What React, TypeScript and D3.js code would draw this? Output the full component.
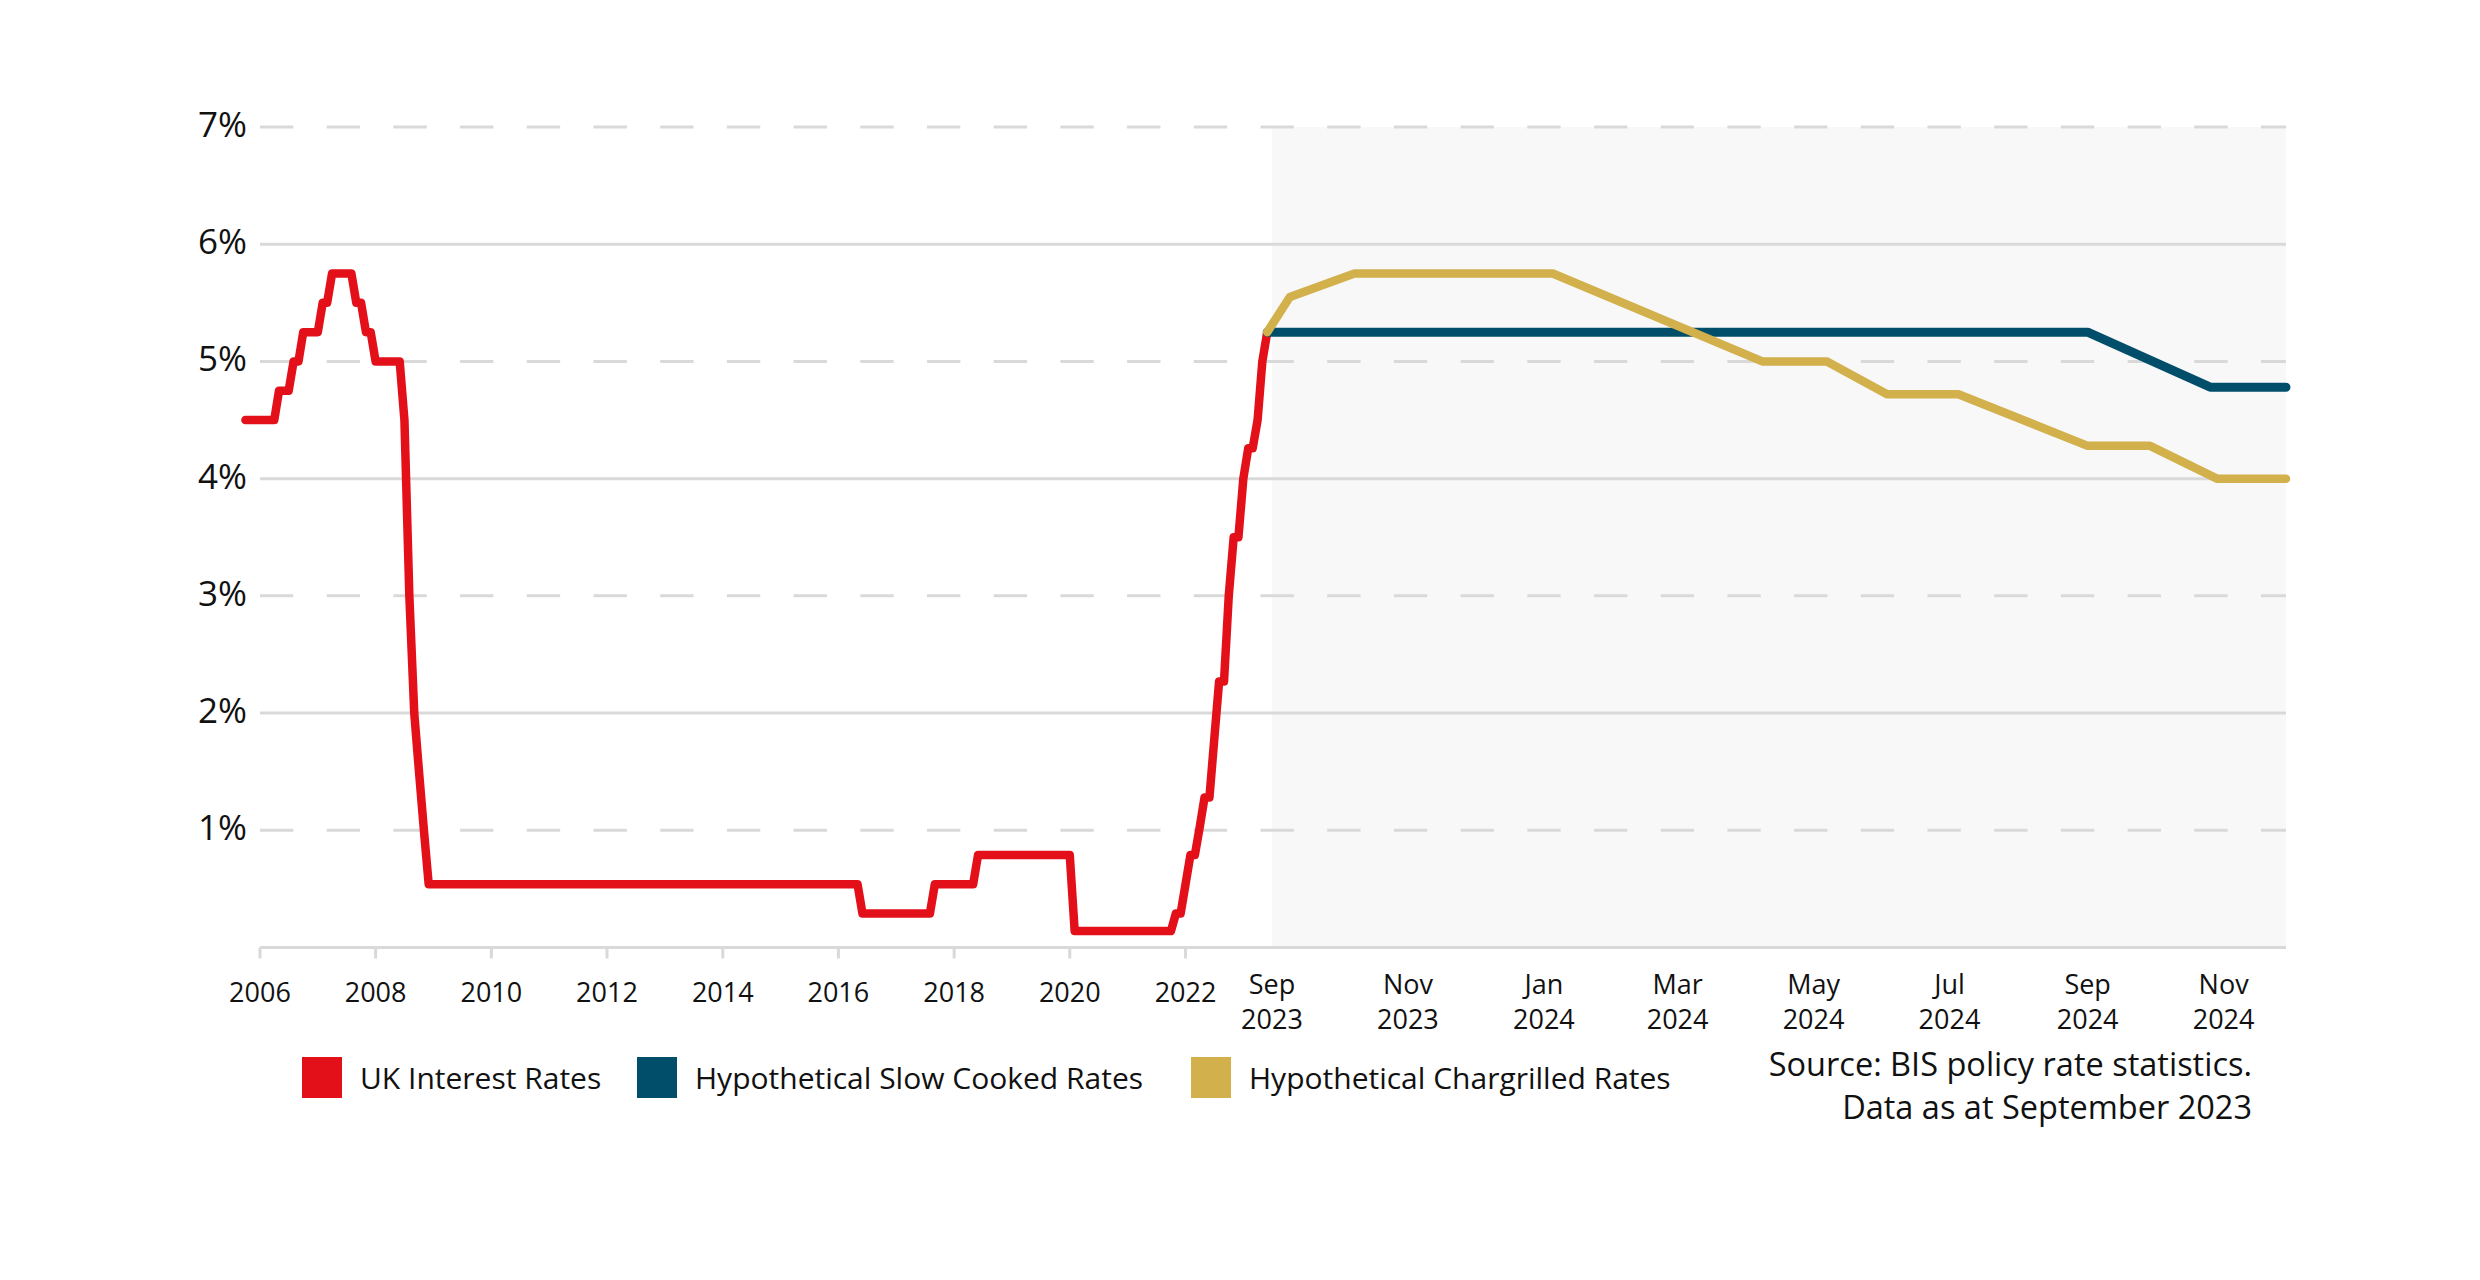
import * as d3 from "d3";
import * as React from "react";

// monthly policy rate, as plotted (change points only)
const ukRates: [string, number][] = [
  ["2005-10", 4.5], ["2006-04", 4.5], ["2006-05", 4.75], ["2006-07", 4.75],
  ["2006-08", 5.0], ["2006-09", 5.0], ["2006-10", 5.25], ["2007-01", 5.25],
  ["2007-02", 5.5], ["2007-03", 5.5], ["2007-04", 5.75], ["2007-08", 5.75],
  ["2007-09", 5.5], ["2007-10", 5.5], ["2007-11", 5.25], ["2007-12", 5.25],
  ["2008-01", 5.0], ["2008-06", 5.0], ["2008-07", 4.5], ["2008-08", 3.0],
  ["2008-09", 2.0], ["2008-10", 1.5], ["2008-11", 1.0], ["2008-12", 0.54],
  ["2016-05", 0.54], ["2016-06", 0.29], ["2017-08", 0.29], ["2017-09", 0.54],
  ["2018-05", 0.54], ["2018-06", 0.79], ["2020-01", 0.79], ["2020-02", 0.14],
  ["2021-10", 0.14], ["2021-11", 0.29], ["2021-12", 0.29], ["2022-01", 0.54],
  ["2022-02", 0.79], ["2022-03", 0.79], ["2022-04", 1.03], ["2022-05", 1.28],
  ["2022-06", 1.28], ["2022-07", 1.77], ["2022-08", 2.27], ["2022-09", 2.27],
  ["2022-10", 3.0], ["2022-11", 3.5], ["2022-12", 3.5], ["2023-01", 4.0],
  ["2023-02", 4.26], ["2023-03", 4.26], ["2023-04", 4.5], ["2023-05", 5.0],
  ["2023-06", 5.25],
];

// projections start from the last actual point
const slowCooked: [string, number][] = [
  ["2024-09-01", 5.25], ["2024-10-26", 4.78], ["2024-11-29", 4.78],
];

const chargrilled: [string, number][] = [
  ["2023-09-09", 5.55], ["2023-10-08", 5.75], ["2024-01-05", 5.75],
  ["2024-04-08", 5.0], ["2024-05-07", 5.0], ["2024-06-03", 4.72],
  ["2024-07-05", 4.72], ["2024-09-01", 4.28], ["2024-09-29", 4.28],
  ["2024-10-29", 4.0], ["2024-11-29", 4.0],
];

const yearTicks = ["2006", "2008", "2010", "2012", "2014", "2016", "2018", "2020", "2022"];
const monthTicks = ["2023-09", "2023-11", "2024-01", "2024-03", "2024-05", "2024-07", "2024-09", "2024-11"];
const rateTicks = [1, 2, 3, 4, 5, 6, 7];

const seriesNames = ["UK Interest Rates", "Hypothetical Slow Cooked Rates", "Hypothetical Chargrilled Rates"];
const seriesColors = ["#e3101a", "#004e69", "#d2b04b"];
const sourceLines = ["Source: BIS policy rate statistics.", "Data as at September 2023"];

const FONT = "'Open Sans', 'Noto Sans', sans-serif";

export default function App() {
  const width = 2480, height = 1280;
  const left = 260, split = 1272, right = 2286;
  const top = 127, bottom = 947.5;

  const parseMonth = d3.timeParse("%Y-%m");
  const parseDay = d3.timeParse("%Y-%m-%d");

  // two time scales: history (compressed) and projection (stretched)
  const xHist = d3.scaleTime()
    .domain([new Date(2006, 0, 1), new Date(2023, 6, 1)])
    .range([left, split]);
  const xProj = d3.scaleTime()
    .domain([new Date(2023, 8, 1), new Date(2024, 10, 29)])
    .range([split, right]);
  const y = d3.scaleLinear().domain([0, 7]).range([bottom, top]);

  const line = d3.line<[number, number]>()
    .x((d) => d[0])
    .y((d) => d[1]);

  const histPts: [number, number][] = ukRates.map(([m, v]) => [xHist(parseMonth(m)), y(v)]);
  const last = histPts[histPts.length - 1];
  const projPts = (s: [string, number][]): [number, number][] =>
    [last, ...s.map(([d, v]) => [xProj(parseDay(d)), y(v)] as [number, number])];

  const lineStyle = { fill: "none", strokeLinejoin: "round" as const, strokeLinecap: "round" as const };

  const legendX = [302, 637, 1191];

  return (
    <svg width={width} height={height} style={{ position: "absolute", left: 0, top: 0, background: "#fff" }}
      fontFamily={FONT}>
      {/* projection shading */}
      <rect x={split} y={y(7)} width={right - split} height={y(0) - y(7)} fill="#f8f8f8" />

      {/* gridlines */}
      {rateTicks.map((t) => (
        <g key={"grid" + t}>
          <line x1={left} x2={right} y1={y(t)} y2={y(t)} stroke="#d9d9d9" strokeWidth={3}
            strokeDasharray={t % 2 === 1 ? "33.35 33.35" : undefined} />
          <text x={247} y={y(t) + 10} textAnchor="end" fontSize={35} fill="#111">{t}%</text>
        </g>
      ))}

      {/* x axis */}
      <line x1={left} x2={right} y1={y(0)} y2={y(0)} stroke="#d9d9d9" strokeWidth={3} />
      {yearTicks.map((yr) => {
        const x = xHist(new Date(+yr, 0, 1));
        return (
          <g key={"yr" + yr}>
            <line x1={x} x2={x} y1={y(0)} y2={y(0) + 11} stroke="#d9d9d9" strokeWidth={3} />
            <text x={x} y={1002} textAnchor="middle" fontSize={27} fill="#111">{yr}</text>
          </g>
        );
      })}
      {monthTicks.map((m) => {
        const d = parseMonth(m);
        const x = xProj(d);
        return (
          <text key={"mo" + m} x={x} textAnchor="middle" fontSize={27} fill="#111">
            <tspan x={x} y={994}>{d3.timeFormat("%b")(d)}</tspan>
            <tspan x={x} y={1029}>{d3.timeFormat("%Y")(d)}</tspan>
          </text>
        );
      })}

      {/* series */}
      <path d={line(histPts)} stroke={seriesColors[0]} strokeWidth={8.5} {...lineStyle} />
      <path d={line(projPts(slowCooked))} stroke={seriesColors[1]} strokeWidth={9} {...lineStyle} />
      <path d={line(projPts(chargrilled))} stroke={seriesColors[2]} strokeWidth={8.5} {...lineStyle} />

      {/* legend */}
      {seriesNames.map((name, i) => (
        <g key={"leg" + i} transform={`translate(${legendX[i]},1057)`}>
          <rect width={40} height={41} fill={seriesColors[i]} />
          <text x={58} y={32} fontSize={30} fill="#111">{name}</text>
        </g>
      ))}

      {/* source note */}
      {sourceLines.map((s, i) => (
        <text key={"src" + i} x={2252} y={1076 + i * 43} textAnchor="end" fontSize={32.5} fill="#111">{s}</text>
      ))}
    </svg>
  );
}
